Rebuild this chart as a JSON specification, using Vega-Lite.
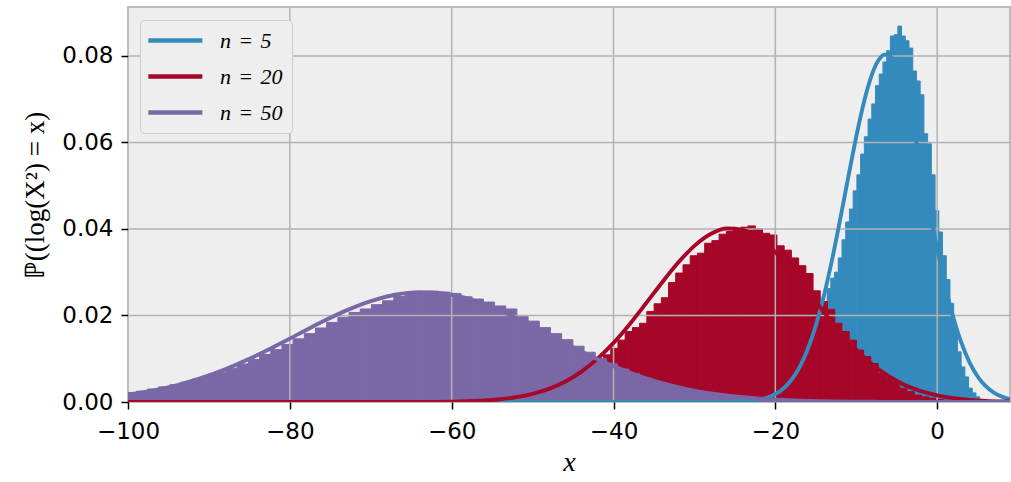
{
  "$schema": "https://vega.github.io/schema/vega-lite/v6.json",
  "autosize": {"type": "none"},
  "width": 882,
  "height": 395,
  "padding": {"left": 128, "top": 7, "right": 1, "bottom": 80},
  "background": "white",
  "config": {
    "view": {"fill": "#EEEEEE", "stroke": "#BCBCBC", "strokeWidth": 2},
    "axis": {
      "grid": false, "domain": false, "tickColor": "black", "tickWidth": 1.5, "tickSize": 7,
      "labelFont": "DejaVu Sans", "labelFontSize": 23, "labelColor": "black", "labelFlush": false,
      "titleFont": "Liberation Serif", "titleFontWeight": "normal", "titleColor": "black"
    }
  },
  "datasets": {
    "bars": [
      {"n":"n5","x0":-25.10,"x1":-24.64,"h":0.0022},{"n":"n5","x0":-24.64,"x1":-24.18,"h":0.0024},{"n":"n5","x0":-24.18,"x1":-23.72,"h":0.0027},{"n":"n5","x0":-23.72,"x1":-23.26,"h":0.0030},{"n":"n5","x0":-23.26,"x1":-22.80,"h":0.0034},{"n":"n5","x0":-22.80,"x1":-22.34,"h":0.0038},{"n":"n5","x0":-22.34,"x1":-21.88,"h":0.0042},{"n":"n5","x0":-21.88,"x1":-21.42,"h":0.0047},{"n":"n5","x0":-21.42,"x1":-20.96,"h":0.0052},{"n":"n5","x0":-20.96,"x1":-20.50,"h":0.0058},{"n":"n5","x0":-20.50,"x1":-20.04,"h":0.0064},{"n":"n5","x0":-20.04,"x1":-19.58,"h":0.0071},{"n":"n5","x0":-19.58,"x1":-19.12,"h":0.0078},{"n":"n5","x0":-19.12,"x1":-18.66,"h":0.0086},{"n":"n5","x0":-18.66,"x1":-18.20,"h":0.0095},{"n":"n5","x0":-18.20,"x1":-17.74,"h":0.0104},{"n":"n5","x0":-17.74,"x1":-17.28,"h":0.0114},{"n":"n5","x0":-17.28,"x1":-16.82,"h":0.0125},{"n":"n5","x0":-16.82,"x1":-16.36,"h":0.0137},{"n":"n5","x0":-16.36,"x1":-15.90,"h":0.0149},{"n":"n5","x0":-15.90,"x1":-15.44,"h":0.0162},{"n":"n5","x0":-15.44,"x1":-14.98,"h":0.0176},{"n":"n5","x0":-14.98,"x1":-14.52,"h":0.0191},{"n":"n5","x0":-14.52,"x1":-14.06,"h":0.0207},{"n":"n5","x0":-14.06,"x1":-13.60,"h":0.0224},{"n":"n5","x0":-13.60,"x1":-13.14,"h":0.0262},{"n":"n5","x0":-13.14,"x1":-12.68,"h":0.0286},{"n":"n5","x0":-12.68,"x1":-12.22,"h":0.0300},{"n":"n5","x0":-12.22,"x1":-11.76,"h":0.0333},{"n":"n5","x0":-11.76,"x1":-11.30,"h":0.0375},{"n":"n5","x0":-11.30,"x1":-10.84,"h":0.0416},{"n":"n5","x0":-10.84,"x1":-10.38,"h":0.0446},{"n":"n5","x0":-10.38,"x1":-9.92,"h":0.0488},{"n":"n5","x0":-9.92,"x1":-9.46,"h":0.0525},{"n":"n5","x0":-9.46,"x1":-9.00,"h":0.0573},{"n":"n5","x0":-9.00,"x1":-8.54,"h":0.0613},{"n":"n5","x0":-8.54,"x1":-8.08,"h":0.0654},{"n":"n5","x0":-8.08,"x1":-7.62,"h":0.0689},{"n":"n5","x0":-7.62,"x1":-7.16,"h":0.0731},{"n":"n5","x0":-7.16,"x1":-6.70,"h":0.0758},{"n":"n5","x0":-6.70,"x1":-6.24,"h":0.0786},{"n":"n5","x0":-6.24,"x1":-5.78,"h":0.0812},{"n":"n5","x0":-5.78,"x1":-5.32,"h":0.0846},{"n":"n5","x0":-5.32,"x1":-4.86,"h":0.0849},{"n":"n5","x0":-4.86,"x1":-4.40,"h":0.0869},{"n":"n5","x0":-4.40,"x1":-3.94,"h":0.0846},{"n":"n5","x0":-3.94,"x1":-3.48,"h":0.0835},{"n":"n5","x0":-3.48,"x1":-3.02,"h":0.0818},{"n":"n5","x0":-3.02,"x1":-2.56,"h":0.0765},{"n":"n5","x0":-2.56,"x1":-2.10,"h":0.0742},{"n":"n5","x0":-2.10,"x1":-1.64,"h":0.0710},{"n":"n5","x0":-1.64,"x1":-1.18,"h":0.0620},{"n":"n5","x0":-1.18,"x1":-0.72,"h":0.0597},{"n":"n5","x0":-0.72,"x1":-0.26,"h":0.0525},{"n":"n5","x0":-0.26,"x1":0.20,"h":0.0442},{"n":"n5","x0":0.20,"x1":0.66,"h":0.0393},{"n":"n5","x0":0.66,"x1":1.12,"h":0.0338},{"n":"n5","x0":1.12,"x1":1.58,"h":0.0283},{"n":"n5","x0":1.58,"x1":2.04,"h":0.0228},{"n":"n5","x0":2.04,"x1":2.50,"h":0.0173},{"n":"n5","x0":2.50,"x1":2.96,"h":0.0116},{"n":"n5","x0":2.96,"x1":3.42,"h":0.0081},{"n":"n5","x0":3.42,"x1":3.88,"h":0.0058},{"n":"n5","x0":3.88,"x1":4.34,"h":0.0032},{"n":"n5","x0":4.34,"x1":4.80,"h":0.0021},{"n":"n5","x0":4.80,"x1":5.26,"h":0.0012},{"n":"n5","x0":5.26,"x1":5.72,"h":0.0006},{"n":"n5","x0":5.72,"x1":6.18,"h":0.0003},{"n":"n5","x0":6.18,"x1":6.64,"h":0.00012},
      {"n":"n20","x0":-53.74,"x1":-52.85,"h":0.0014},{"n":"n20","x0":-52.85,"x1":-51.95,"h":0.0017},{"n":"n20","x0":-51.95,"x1":-51.06,"h":0.0020},{"n":"n20","x0":-51.06,"x1":-50.17,"h":0.0024},{"n":"n20","x0":-50.17,"x1":-49.27,"h":0.0028},{"n":"n20","x0":-49.27,"x1":-48.38,"h":0.0033},{"n":"n20","x0":-48.38,"x1":-47.49,"h":0.0038},{"n":"n20","x0":-47.49,"x1":-46.59,"h":0.0044},{"n":"n20","x0":-46.59,"x1":-45.70,"h":0.0052},{"n":"n20","x0":-45.70,"x1":-44.81,"h":0.0060},{"n":"n20","x0":-44.81,"x1":-43.92,"h":0.0068},{"n":"n20","x0":-43.92,"x1":-43.02,"h":0.0078},{"n":"n20","x0":-43.02,"x1":-42.13,"h":0.0088},{"n":"n20","x0":-42.13,"x1":-41.24,"h":0.0100},{"n":"n20","x0":-41.24,"x1":-40.34,"h":0.0109},{"n":"n20","x0":-40.34,"x1":-39.45,"h":0.0124},{"n":"n20","x0":-39.45,"x1":-38.56,"h":0.0143},{"n":"n20","x0":-38.56,"x1":-37.66,"h":0.0163},{"n":"n20","x0":-37.66,"x1":-36.77,"h":0.0172},{"n":"n20","x0":-36.77,"x1":-35.88,"h":0.0182},{"n":"n20","x0":-35.88,"x1":-34.98,"h":0.0209},{"n":"n20","x0":-34.98,"x1":-34.09,"h":0.0227},{"n":"n20","x0":-34.09,"x1":-33.20,"h":0.0241},{"n":"n20","x0":-33.20,"x1":-32.31,"h":0.0276},{"n":"n20","x0":-32.31,"x1":-31.41,"h":0.0298},{"n":"n20","x0":-31.41,"x1":-30.52,"h":0.0317},{"n":"n20","x0":-30.52,"x1":-29.63,"h":0.0338},{"n":"n20","x0":-29.63,"x1":-28.73,"h":0.0344},{"n":"n20","x0":-28.73,"x1":-27.84,"h":0.0367},{"n":"n20","x0":-27.84,"x1":-26.95,"h":0.0373},{"n":"n20","x0":-26.95,"x1":-26.05,"h":0.0388},{"n":"n20","x0":-26.05,"x1":-25.16,"h":0.0394},{"n":"n20","x0":-25.16,"x1":-24.27,"h":0.0400},{"n":"n20","x0":-24.27,"x1":-23.38,"h":0.0404},{"n":"n20","x0":-23.38,"x1":-22.48,"h":0.0407},{"n":"n20","x0":-22.48,"x1":-21.59,"h":0.0400},{"n":"n20","x0":-21.59,"x1":-20.70,"h":0.0390},{"n":"n20","x0":-20.70,"x1":-19.80,"h":0.0386},{"n":"n20","x0":-19.80,"x1":-18.91,"h":0.0361},{"n":"n20","x0":-18.91,"x1":-18.02,"h":0.0351},{"n":"n20","x0":-18.02,"x1":-17.12,"h":0.0333},{"n":"n20","x0":-17.12,"x1":-16.23,"h":0.0315},{"n":"n20","x0":-16.23,"x1":-15.34,"h":0.0297},{"n":"n20","x0":-15.34,"x1":-14.45,"h":0.0257},{"n":"n20","x0":-14.45,"x1":-13.55,"h":0.0232},{"n":"n20","x0":-13.55,"x1":-12.66,"h":0.0214},{"n":"n20","x0":-12.66,"x1":-11.77,"h":0.0182},{"n":"n20","x0":-11.77,"x1":-10.87,"h":0.0163},{"n":"n20","x0":-10.87,"x1":-9.98,"h":0.0143},{"n":"n20","x0":-9.98,"x1":-9.09,"h":0.0120},{"n":"n20","x0":-9.09,"x1":-8.20,"h":0.0105},{"n":"n20","x0":-8.20,"x1":-7.30,"h":0.0089},{"n":"n20","x0":-7.30,"x1":-6.41,"h":0.0066},{"n":"n20","x0":-6.41,"x1":-5.52,"h":0.0055},{"n":"n20","x0":-5.52,"x1":-4.62,"h":0.0045},{"n":"n20","x0":-4.62,"x1":-3.73,"h":0.0032},{"n":"n20","x0":-3.73,"x1":-2.84,"h":0.0024},{"n":"n20","x0":-2.84,"x1":-1.94,"h":0.0016},{"n":"n20","x0":-1.94,"x1":-1.05,"h":0.0012},{"n":"n20","x0":-1.05,"x1":-0.16,"h":0.0009},{"n":"n20","x0":-0.16,"x1":0.73,"h":0.0006},{"n":"n20","x0":0.73,"x1":1.63,"h":0.0004},{"n":"n20","x0":1.63,"x1":2.52,"h":0.0003},{"n":"n20","x0":2.52,"x1":3.41,"h":0.0002},{"n":"n20","x0":3.41,"x1":4.30,"h":0.0001},
      {"n":"n50","x0":-100.34,"x1":-98.95,"h":0.0022},{"n":"n50","x0":-98.95,"x1":-97.57,"h":0.0025},{"n":"n50","x0":-97.57,"x1":-96.19,"h":0.0030},{"n":"n50","x0":-96.19,"x1":-94.81,"h":0.0035},{"n":"n50","x0":-94.81,"x1":-93.42,"h":0.0040},{"n":"n50","x0":-93.42,"x1":-92.04,"h":0.0046},{"n":"n50","x0":-92.04,"x1":-90.66,"h":0.0053},{"n":"n50","x0":-90.66,"x1":-89.27,"h":0.0061},{"n":"n50","x0":-89.27,"x1":-87.89,"h":0.0069},{"n":"n50","x0":-87.89,"x1":-86.51,"h":0.0078},{"n":"n50","x0":-86.51,"x1":-85.13,"h":0.0088},{"n":"n50","x0":-85.13,"x1":-83.74,"h":0.0098},{"n":"n50","x0":-83.74,"x1":-82.36,"h":0.0110},{"n":"n50","x0":-82.36,"x1":-80.98,"h":0.0121},{"n":"n50","x0":-80.98,"x1":-79.60,"h":0.0133},{"n":"n50","x0":-79.60,"x1":-78.21,"h":0.0146},{"n":"n50","x0":-78.21,"x1":-76.83,"h":0.0158},{"n":"n50","x0":-76.83,"x1":-75.45,"h":0.0171},{"n":"n50","x0":-75.45,"x1":-74.06,"h":0.0184},{"n":"n50","x0":-74.06,"x1":-72.68,"h":0.0196},{"n":"n50","x0":-72.68,"x1":-71.30,"h":0.0207},{"n":"n50","x0":-71.30,"x1":-69.92,"h":0.0215},{"n":"n50","x0":-69.92,"x1":-68.53,"h":0.0225},{"n":"n50","x0":-68.53,"x1":-67.15,"h":0.0234},{"n":"n50","x0":-67.15,"x1":-65.77,"h":0.0244},{"n":"n50","x0":-65.77,"x1":-64.39,"h":0.0250},{"n":"n50","x0":-64.39,"x1":-63.00,"h":0.0253},{"n":"n50","x0":-63.00,"x1":-61.62,"h":0.0256},{"n":"n50","x0":-61.62,"x1":-60.23,"h":0.0254},{"n":"n50","x0":-60.23,"x1":-58.85,"h":0.0251},{"n":"n50","x0":-58.85,"x1":-57.47,"h":0.0243},{"n":"n50","x0":-57.47,"x1":-56.08,"h":0.0238},{"n":"n50","x0":-56.08,"x1":-54.70,"h":0.0231},{"n":"n50","x0":-54.70,"x1":-53.32,"h":0.0222},{"n":"n50","x0":-53.32,"x1":-51.94,"h":0.0215},{"n":"n50","x0":-51.94,"x1":-50.55,"h":0.0198},{"n":"n50","x0":-50.55,"x1":-49.17,"h":0.0187},{"n":"n50","x0":-49.17,"x1":-47.79,"h":0.0172},{"n":"n50","x0":-47.79,"x1":-46.41,"h":0.0158},{"n":"n50","x0":-46.41,"x1":-45.02,"h":0.0144},{"n":"n50","x0":-45.02,"x1":-43.64,"h":0.0129},{"n":"n50","x0":-43.64,"x1":-42.26,"h":0.0115},{"n":"n50","x0":-42.26,"x1":-40.87,"h":0.0101},{"n":"n50","x0":-40.87,"x1":-39.49,"h":0.0088},{"n":"n50","x0":-39.49,"x1":-38.11,"h":0.0076},{"n":"n50","x0":-38.11,"x1":-36.73,"h":0.0065},{"n":"n50","x0":-36.73,"x1":-35.34,"h":0.0055},{"n":"n50","x0":-35.34,"x1":-33.96,"h":0.0046},{"n":"n50","x0":-33.96,"x1":-32.58,"h":0.0038},{"n":"n50","x0":-32.58,"x1":-31.20,"h":0.0031},{"n":"n50","x0":-31.20,"x1":-29.81,"h":0.0025},{"n":"n50","x0":-29.81,"x1":-28.43,"h":0.0020},{"n":"n50","x0":-28.43,"x1":-27.05,"h":0.0016},{"n":"n50","x0":-27.05,"x1":-25.67,"h":0.0012},{"n":"n50","x0":-25.67,"x1":-24.28,"h":0.0009},{"n":"n50","x0":-24.28,"x1":-22.90,"h":0.0007},{"n":"n50","x0":-22.90,"x1":-21.52,"h":0.0005},{"n":"n50","x0":-21.52,"x1":-20.13,"h":0.0004},{"n":"n50","x0":-20.13,"x1":-18.75,"h":0.0003},{"n":"n50","x0":-18.75,"x1":-17.37,"h":0.0002},{"n":"n50","x0":-17.37,"x1":-15.99,"h":0.00012}
    ],
    "lines": [
      {"n":"n\u2004=\u20045","x":-100,"y":0},{"n":"n\u2004=\u20045","x":-26,"y":0.000032},{"n":"n\u2004=\u20045","x":-25,"y":0.00007},{"n":"n\u2004=\u20045","x":-24,"y":0.000146},{"n":"n\u2004=\u20045","x":-23,"y":0.000292},{"n":"n\u2004=\u20045","x":-22,"y":0.000562},{"n":"n\u2004=\u20045","x":-21,"y":0.001038},{"n":"n\u2004=\u20045","x":-20,"y":0.001842},{"n":"n\u2004=\u20045","x":-19,"y":0.003139},{"n":"n\u2004=\u20045","x":-18,"y":0.005135},{"n":"n\u2004=\u20045","x":-17,"y":0.008068},{"n":"n\u2004=\u20045","x":-16,"y":0.012176},{"n":"n\u2004=\u20045","x":-15,"y":0.017643},{"n":"n\u2004=\u20045","x":-14,"y":0.024545},{"n":"n\u2004=\u20045","x":-13.5,"y":0.028516},{"n":"n\u2004=\u20045","x":-13,"y":0.032797},{"n":"n\u2004=\u20045","x":-12.5,"y":0.037336},{"n":"n\u2004=\u20045","x":-12,"y":0.042077},{"n":"n\u2004=\u20045","x":-11.5,"y":0.046943},{"n":"n\u2004=\u20045","x":-11,"y":0.051839},{"n":"n\u2004=\u20045","x":-10.5,"y":0.056676},{"n":"n\u2004=\u20045","x":-10,"y":0.061331},{"n":"n\u2004=\u20045","x":-9.5,"y":0.06571},{"n":"n\u2004=\u20045","x":-9,"y":0.06968},{"n":"n\u2004=\u20045","x":-8.5,"y":0.07315},{"n":"n\u2004=\u20045","x":-8,"y":0.076019},{"n":"n\u2004=\u20045","x":-7.5,"y":0.078203},{"n":"n\u2004=\u20045","x":-7,"y":0.07964},{"n":"n\u2004=\u20045","x":-6.5,"y":0.080284},{"n":"n\u2004=\u20045","x":-6,"y":0.080118},{"n":"n\u2004=\u20045","x":-5.5,"y":0.079147},{"n":"n\u2004=\u20045","x":-5,"y":0.077399},{"n":"n\u2004=\u20045","x":-4.5,"y":0.074926},{"n":"n\u2004=\u20045","x":-4,"y":0.071801},{"n":"n\u2004=\u20045","x":-3.5,"y":0.068113},{"n":"n\u2004=\u20045","x":-3,"y":0.063964},{"n":"n\u2004=\u20045","x":-2.5,"y":0.059461},{"n":"n\u2004=\u20045","x":-2,"y":0.054715},{"n":"n\u2004=\u20045","x":-1.5,"y":0.049845},{"n":"n\u2004=\u20045","x":-1,"y":0.044947},{"n":"n\u2004=\u20045","x":-0.5,"y":0.040122},{"n":"n\u2004=\u20045","x":0,"y":0.035454},{"n":"n\u2004=\u20045","x":0.5,"y":0.031016},{"n":"n\u2004=\u20045","x":1,"y":0.026857},{"n":"n\u2004=\u20045","x":1.5,"y":0.023022},{"n":"n\u2004=\u20045","x":2,"y":0.019535},{"n":"n\u2004=\u20045","x":2.5,"y":0.016411},{"n":"n\u2004=\u20045","x":3,"y":0.013647},{"n":"n\u2004=\u20045","x":4,"y":0.009153},{"n":"n\u2004=\u20045","x":5,"y":0.005896},{"n":"n\u2004=\u20045","x":6,"y":0.003646},{"n":"n\u2004=\u20045","x":7,"y":0.002166},{"n":"n\u2004=\u20045","x":8,"y":0.001235},{"n":"n\u2004=\u20045","x":9,"y":0.000676},{"n":"n\u2004=\u20045","x":10,"y":0.000356},
      {"n":"n\u2004=\u200420","x":-100,"y":0},{"n":"n\u2004=\u200420","x":-70,"y":0.000002},{"n":"n\u2004=\u200420","x":-64,"y":0.000021},{"n":"n\u2004=\u200420","x":-60,"y":0.0000935},{"n":"n\u2004=\u200420","x":-58,"y":0.000185},{"n":"n\u2004=\u200420","x":-56,"y":0.000351},{"n":"n\u2004=\u200420","x":-54,"y":0.000639},{"n":"n\u2004=\u200420","x":-52,"y":0.001117},{"n":"n\u2004=\u200420","x":-50,"y":0.001876},{"n":"n\u2004=\u200420","x":-48,"y":0.003027},{"n":"n\u2004=\u200420","x":-46,"y":0.004689},{"n":"n\u2004=\u200420","x":-44,"y":0.006973},{"n":"n\u2004=\u200420","x":-42,"y":0.009959},{"n":"n\u2004=\u200420","x":-40,"y":0.01366},{"n":"n\u2004=\u200420","x":-38,"y":0.017991},{"n":"n\u2004=\u200420","x":-36,"y":0.022753},{"n":"n\u2004=\u200420","x":-34,"y":0.027634},{"n":"n\u2004=\u200420","x":-32,"y":0.032229},{"n":"n\u2004=\u200420","x":-30,"y":0.036095},{"n":"n\u2004=\u200420","x":-28,"y":0.038818},{"n":"n\u2004=\u200420","x":-26,"y":0.040089},{"n":"n\u2004=\u200420","x":-24,"y":0.039758},{"n":"n\u2004=\u200420","x":-22,"y":0.037862},{"n":"n\u2004=\u200420","x":-20,"y":0.034625},{"n":"n\u2004=\u200420","x":-18,"y":0.030408},{"n":"n\u2004=\u200420","x":-16,"y":0.025643},{"n":"n\u2004=\u200420","x":-14,"y":0.020766},{"n":"n\u2004=\u200420","x":-12,"y":0.016148},{"n":"n\u2004=\u200420","x":-10,"y":0.012058},{"n":"n\u2004=\u200420","x":-8,"y":0.008646},{"n":"n\u2004=\u200420","x":-6,"y":0.005955},{"n":"n\u2004=\u200420","x":-4,"y":0.003938},{"n":"n\u2004=\u200420","x":-2,"y":0.0025},{"n":"n\u2004=\u200420","x":0,"y":0.001525},{"n":"n\u2004=\u200420","x":2,"y":0.000892},{"n":"n\u2004=\u200420","x":4,"y":0.000502},{"n":"n\u2004=\u200420","x":6,"y":0.000271},{"n":"n\u2004=\u200420","x":8,"y":0.000141},{"n":"n\u2004=\u200420","x":10,"y":0.00007},
      {"n":"n\u2004=\u200450","x":-100,"y":0.001714},{"n":"n\u2004=\u200450","x":-97,"y":0.002623},{"n":"n\u2004=\u200450","x":-94,"y":0.003867},{"n":"n\u2004=\u200450","x":-91,"y":0.0055},{"n":"n\u2004=\u200450","x":-88,"y":0.007543},{"n":"n\u2004=\u200450","x":-85,"y":0.009973},{"n":"n\u2004=\u200450","x":-82,"y":0.012716},{"n":"n\u2004=\u200450","x":-79,"y":0.015631},{"n":"n\u2004=\u200450","x":-76,"y":0.018527},{"n":"n\u2004=\u200450","x":-73,"y":0.021171},{"n":"n\u2004=\u200450","x":-70,"y":0.023329},{"n":"n\u2004=\u200450","x":-67,"y":0.024785},{"n":"n\u2004=\u200450","x":-64,"y":0.025388},{"n":"n\u2004=\u200450","x":-61,"y":0.025075},{"n":"n\u2004=\u200450","x":-58,"y":0.02388},{"n":"n\u2004=\u200450","x":-55,"y":0.021926},{"n":"n\u2004=\u200450","x":-52,"y":0.019412},{"n":"n\u2004=\u200450","x":-49,"y":0.016569},{"n":"n\u2004=\u200450","x":-46,"y":0.013638},{"n":"n\u2004=\u200450","x":-43,"y":0.010823},{"n":"n\u2004=\u200450","x":-40,"y":0.008283},{"n":"n\u2004=\u200450","x":-37,"y":0.00611},{"n":"n\u2004=\u200450","x":-34,"y":0.004345},{"n":"n\u2004=\u200450","x":-31,"y":0.002981},{"n":"n\u2004=\u200450","x":-28,"y":0.001971},{"n":"n\u2004=\u200450","x":-25,"y":0.001257},{"n":"n\u2004=\u200450","x":-22,"y":0.000773},{"n":"n\u2004=\u200450","x":-19,"y":0.000458},{"n":"n\u2004=\u200450","x":-16,"y":0.000262},{"n":"n\u2004=\u200450","x":-13,"y":0.000144},{"n":"n\u2004=\u200450","x":-10,"y":0.0000767},{"n":"n\u2004=\u200450","x":-7,"y":0.0000393},{"n":"n\u2004=\u200450","x":-4,"y":0.0000194},{"n":"n\u2004=\u200450","x":-1,"y":0.0000092},{"n":"n\u2004=\u200450","x":2,"y":0.000004},{"n":"n\u2004=\u200450","x":5,"y":0.0000017},{"n":"n\u2004=\u200450","x":10,"y":0.0000003}
    ],
    "gridx": [{"v":-80},{"v":-60},{"v":-40},{"v":-20},{"v":0}],
    "gridy": [{"v":0.02},{"v":0.04},{"v":0.06},{"v":0.08}]
  },
  "layer": [
    {
      "data": {"name": "bars"},
      "mark": {"type": "bar", "clip": true, "strokeWidth": 1},
      "encoding": {
        "x": {"field": "x0", "type": "quantitative", "scale": {"domain": [-100, 9], "nice": false, "zero": false},
              "axis": {"values": [-100, -80, -60, -40, -20, 0], "format": "d", "labelPadding": 11, "title": "x", "titleFontSize": 28, "titleFontStyle": "italic", "titlePadding": 5}},
        "x2": {"field": "x1"},
        "y": {"field": "h", "type": "quantitative", "stack": null, "scale": {"domain": [0, 0.0913], "nice": false, "zero": false},
              "axis": {"values": [0, 0.02, 0.04, 0.06, 0.08], "format": ".2f", "labelPadding": 8, "title": "ℙ((log(X²) = x)", "titleFontSize": 27, "titlePadding": 12, "titleY": 188}},
        "y2": {"datum": 0},
        "fill": {"field": "n", "type": "nominal", "scale": {"domain": ["n5", "n20", "n50"], "range": ["#348ABD", "#A60628", "#7A68A6"]}, "legend": null},
        "stroke": {"field": "n", "type": "nominal", "scale": {"domain": ["n5", "n20", "n50"], "range": ["#348ABD", "#A60628", "#7A68A6"]}, "legend": null}
      }
    },
    {
      "data": {"name": "gridx"},
      "mark": {"type": "rule", "color": "#B2B2B2", "strokeWidth": 1.5},
      "encoding": {"x": {"field": "v", "type": "quantitative"}}
    },
    {
      "data": {"name": "gridy"},
      "mark": {"type": "rule", "color": "#B2B2B2", "strokeWidth": 1.5},
      "encoding": {"y": {"field": "v", "type": "quantitative"}}
    },
    {
      "data": {"name": "lines"},
      "mark": {"type": "line", "clip": true, "strokeWidth": 3.9, "interpolate": "monotone"},
      "encoding": {
        "x": {"field": "x", "type": "quantitative"},
        "y": {"field": "y", "type": "quantitative"},
        "color": {"field": "n", "type": "nominal",
                  "scale": {"domain": ["n\u2004=\u20045", "n\u2004=\u200420", "n\u2004=\u200450"], "range": ["#348ABD", "#A60628", "#7A68A6"]},
                  "legend": {"orient": "none", "legendX": 12, "legendY": 13, "title": null,
                             "symbolType": "M-1.35,0H4.65", "symbolSize": 324, "symbolStrokeWidth": 4.5, "labelOffset": 48,
                             "labelFont": "Liberation Serif", "labelFontSize": 22, "labelFontStyle": "italic", "labelColor": "black",
                             "fillColor": "#EEEEEE", "strokeColor": "#CCCCCC", "cornerRadius": 4, "padding": 9, "rowPadding": 13}}
      }
    }
  ]
}
